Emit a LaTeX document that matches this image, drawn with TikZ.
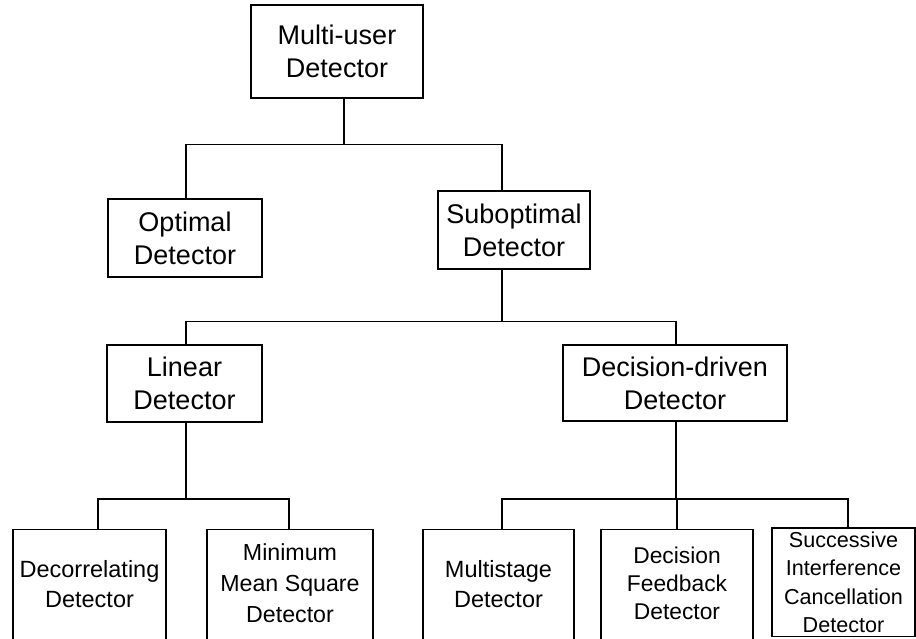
\documentclass[tikz,border=0pt]{standalone}
\usepackage{fontspec}
\setmainfont{Liberation Sans}
\begin{document}
\begin{tikzpicture}[x=1pt,y=-1pt,
  box/.style={draw, line width=1.5pt, inner sep=0pt, align=center},
  upper/.style={box, font=\fontsize{27}{33}\selectfont},
  lower/.style={box, minimum height=114, text depth=6pt},
  wire/.style={line width=1.5pt}]
\clip (0,0) rectangle (916,638);
\fill[white] (0,0) rectangle (916,638);

% first and second level
\node[upper, minimum width=172, minimum height=93] (mud) at (337,51.5) {Multi-user\\Detector};
\node[upper, minimum width=154, minimum height=78] (opt) at (185,238) {Optimal\\Detector};
\node[upper, minimum width=152, minimum height=78] (sub) at (514,230) {Suboptimal\\Detector};

% third level
\node[upper, minimum width=155, minimum height=77] (lin) at (184.5,383.5) {Linear\\Detector};
\node[upper, minimum width=224, minimum height=76] (dd) at (675,383) {Decision-driven\\Detector};

% leaves
\node[lower, minimum width=153, font=\fontsize{23.5}{30}\selectfont] (dec) at (89.5,586.5) {Decorrelating\\Detector};
\node[lower, minimum width=166, font=\fontsize{23.2}{31}\selectfont] (mmse) at (290,586.5) {Minimum\\Mean Square\\Detector};
\node[lower, minimum width=151, font=\fontsize{23.5}{30}\selectfont] (ms) at (498.5,586.5) {Multistage\\Detector};
\node[lower, minimum width=152, font=\fontsize{22.8}{28}\selectfont] (df) at (677,586.5) {Decision\\Feedback\\Detector};
\node[box, minimum width=143, minimum height=108.5, font=\fontsize{21.6}{28.5}\selectfont] (sic) at (843.5,582.25) {Successive\\Interference\\Cancellation\\Detector};

% bus levels
\coordinate (bA) at (0,144.5);
\coordinate (bB) at (0,321.5);
\coordinate (bC) at (0,499);

% connectors
\draw[wire] ([xshift=7pt]mud.south) -- ([xshift=7pt]mud.south |- bA);
\draw[wire] ([xshift=1pt]opt.north) |- ([xshift=-12pt]sub.north |- bA) -- ([xshift=-12pt]sub.north);

\draw[wire] ([xshift=-12pt]sub.south) -- ([xshift=-12pt]sub.south |- bB);
\draw[wire] ([xshift=1.5pt]lin.north) |- ([xshift=1pt]dd.north |- bB) -- ([xshift=1pt]dd.north);

\draw[wire] ([xshift=1.5pt]lin.south) -- ([xshift=1.5pt]lin.south |- bC);
\draw[wire] ([xshift=8.5pt]dec.north) |- ([xshift=-1pt]mmse.north |- bC) -- ([xshift=-1pt]mmse.north);

\draw[wire] ([xshift=1pt]dd.south) -- ([xshift=1pt]dd.south |- bC);
\draw[wire] ([xshift=3.5pt]ms.north) |- ([xshift=4.5pt]sic.north |- bC) -- ([xshift=4.5pt]sic.north);
\draw[wire] (df.north) -- (df.north |- bC);
\end{tikzpicture}
\end{document}
